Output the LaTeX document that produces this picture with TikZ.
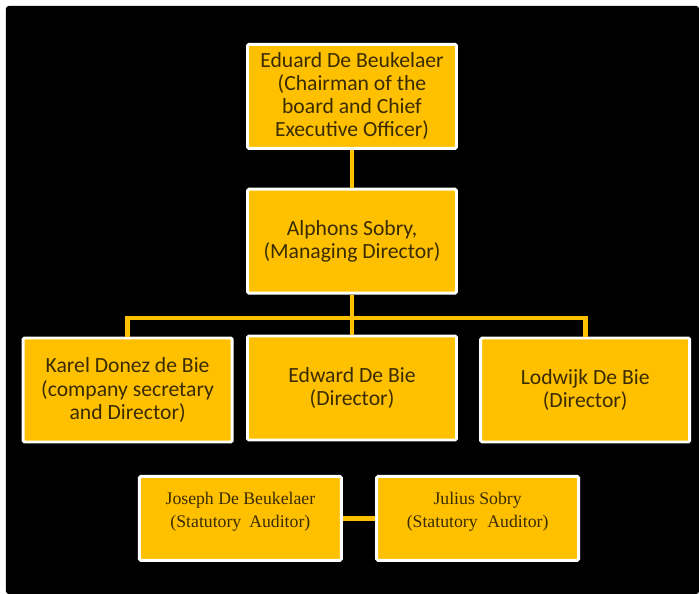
\documentclass[tikz,border=0pt]{standalone}
\usepackage{fontspec}
\setmainfont{Carlito}
\newfontfamily\auditfont{Liberation Serif}
\definecolor{gold}{HTML}{FFC000}
\definecolor{inkbrown}{HTML}{3A2C00}
\begin{document}
\begin{tikzpicture}[x=1cm,y=1cm,
  box/.style={draw=white, fill=gold, line width=2.1pt, rounded corners=1pt, align=center,
    minimum width=5.225cm, minimum height=2.6cm, inner sep=0pt, text=inkbrown,
    font=\fontsize{15.4}{16.4}\selectfont},
  auditbox/.style={box, minimum width=5.05cm, minimum height=2.1cm, text depth=0.45cm,
    font=\auditfont\fontsize{12.6}{16.4}\selectfont},
  link/.style={draw=gold, line width=3.4pt}]
% page and background
\fill[white] (0,0) rectangle (17.475,-14.85);
\fill[black, rounded corners=2pt] (0.15,-0.15) rectangle (17.475,-14.85);
\node[box] (ceo) at (8.8,-2.41) {Eduard De Beukelaer\\(Chairman of the\\board and Chief\\Executive Officer)};
\node[box] (md) at (8.8,-6.03) {Alphons Sobry,\\(Managing Director)};
\node[box] (karel) at (3.19,-9.75) {Karel Donez de Bie\\(company secretary\\and Director)};
\node[box] (edward) at (8.8,-9.7) {Edward De Bie\\(Director)};
\node[box] (lodwijk) at (14.63,-9.75) {Lodwijk De Bie\\(Director)};
\node[auditbox] (joseph) at (6.01,-12.96) {Joseph De Beukelaer\\(Statutory\hspace{0.2em} Auditor)};
\node[auditbox] (julius) at (11.94,-12.96) {Julius Sobry\\(Statutory\hspace{0.3em} Auditor)};
\coordinate (bus) at (8.8,-7.95);
\draw[link] (ceo) -- (md);
\draw[link] (md) -- (bus);
\draw[link] (bus) -| (karel);
\draw[link] (bus) -- (edward);
\draw[link] (bus) -| (lodwijk);
\draw[link] (joseph) -- (julius);
\end{tikzpicture}
\end{document}
